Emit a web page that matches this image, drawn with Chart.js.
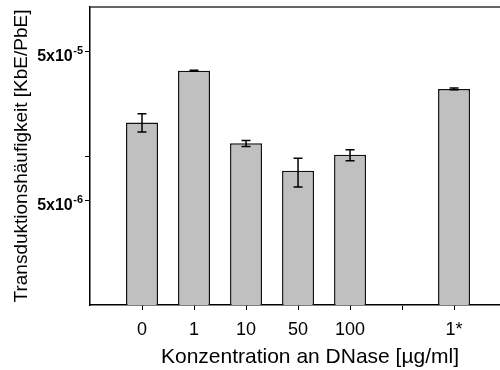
<!DOCTYPE html>
<html>
<head>
<meta charset="utf-8">
<script src="https://cdn.jsdelivr.net/npm/chart.js@4/dist/chart.umd.min.js"></script>
<style>
  html, body { margin: 0; padding: 0; background: #fff; overflow: hidden; }
  #wrap { width: 530px; height: 370px; }
</style>
</head>
<body>
<div id="wrap"><canvas id="myChart" width="530" height="370"></canvas></div>
<script>
// Kategorien (Position 5 bleibt leer)
const tickLabels = ['0', '1', '10', '50', '100', '', '1*'];
const barPositions = [0, 1, 2, 3, 4, 6];
// Transduktionshäufigkeit (Mittelwert + Fehlerbalken)
const values = [1.68e-5, 3.74e-5, 1.22e-5, 7.96e-6, 1.02e-5, 2.82e-5];
const errLow = [1.45e-5, 3.71e-5, 1.16e-5, 6.19e-6, 9.3e-6, 2.78e-5];
const errHigh = [1.92e-5, 3.77e-5, 1.27e-5, 9.65e-6, 1.10e-5, 2.86e-5];
// y-Achse: Beschriftung als Basis + Exponent
const yTickValues = [5e-6, 1e-5, 5e-5];
const yTickBase = ['5x10', '', '5x10'];
const yTickExp = ['-6', '', '-5'];

const FONT = "'Liberation Sans', Arial, Helvetica, sans-serif";

const errorBars = {
  id: 'errorBars',
  afterDatasetsDraw(chart) {
    const { ctx, scales: { x, y } } = chart;
    ctx.save();
    ctx.strokeStyle = '#000';
    ctx.lineWidth = 1.5;
    barPositions.forEach((pos, i) => {
      const px = x.getPixelForValue(pos);
      const yLo = y.getPixelForValue(errLow[i]);
      const yHi = y.getPixelForValue(errHigh[i]);
      ctx.beginPath();
      ctx.moveTo(px, yLo); ctx.lineTo(px, yHi);
      ctx.moveTo(px - 4.5, yLo); ctx.lineTo(px + 4.5, yLo);
      ctx.moveTo(px - 4.5, yHi); ctx.lineTo(px + 4.5, yHi);
      ctx.stroke();
    });
    ctx.restore();
  }
};

// Rahmenlinie oben + y-Beschriftung mit hochgestelltem Exponenten
const frameAndLabels = {
  id: 'frameAndLabels',
  afterDraw(chart) {
    const { ctx, chartArea, scales: { y } } = chart;
    ctx.save();
    ctx.strokeStyle = '#333';
    ctx.lineWidth = 1.5;
    ctx.beginPath();
    ctx.moveTo(chartArea.left, chartArea.top);
    ctx.lineTo(chartArea.right, chartArea.top);
    ctx.stroke();

    ctx.fillStyle = '#000';
    ctx.textAlign = 'right';
    ctx.textBaseline = 'alphabetic';
    yTickValues.forEach((v, i) => {
      if (!yTickBase[i]) return;
      const py = y.getPixelForValue(v);
      const right = chartArea.left - 7;
      ctx.font = 'bold 11px ' + FONT;
      const expW = ctx.measureText(yTickExp[i]).width;
      ctx.fillText(yTickExp[i], right, py + 2);
      ctx.font = 'bold 16px ' + FONT;
      ctx.fillText(yTickBase[i], right - expW - 0.5, py + 9);
    });
    ctx.restore();
  }
};

new Chart(document.getElementById('myChart'), {
  type: 'bar',
  data: {
    datasets: [{
      data: barPositions.map((p, i) => ({ x: p, y: values[i] })),
      backgroundColor: '#c0c0c0',
      borderColor: '#111',
      borderWidth: 1.5,
      borderSkipped: 'bottom',
      categoryPercentage: 0.615,
      barPercentage: 1
    }]
  },
  options: {
    responsive: false,
    animation: false,
    layout: { padding: { top: 7, left: 0, right: 0, bottom: 0 } },
    plugins: { legend: { display: false }, tooltip: { enabled: false } },
    scales: {
      x: {
        type: 'linear',
        offset: false,
        min: -1,
        max: 7.46,
        afterBuildTicks: (scale) => { scale.ticks = tickLabels.map((_, i) => ({ value: i })); },
        afterFit: (scale) => { scale.height = 65; },
        ticks: {
          callback: (v) => tickLabels[v],
          color: '#000',
          font: { family: FONT, size: 18 },
          padding: 9,
          maxRotation: 0,
          autoSkip: false
        },
        grid: { offset: false, drawOnChartArea: false, drawTicks: true, tickLength: 5, color: '#000' },
        border: { color: '#000', width: 1.5 },
        title: {
          display: true,
          text: 'Konzentration an DNase [µg/ml]',
          color: '#000',
          font: { family: FONT, size: 21 },
          padding: { top: 0, bottom: 0 }
        }
      },
      y: {
        type: 'logarithmic',
        min: 1e-6,
        max: 1e-4,
        afterBuildTicks: (scale) => { scale.ticks = yTickValues.map(v => ({ value: v })); },
        afterFit: (scale) => { scale.width = 90; },
        ticks: { display: false },
        grid: { drawOnChartArea: false, drawTicks: true, tickLength: 5, color: '#000' },
        border: { color: '#000', width: 1.5 },
        title: {
          display: true,
          text: 'Transduktionshäufigkeit [KbE/PbE]',
          color: '#000',
          font: { family: FONT, size: 19 },
          padding: { top: 10, bottom: 0 }
        }
      }
    }
  },
  plugins: [errorBars, frameAndLabels]
});
</script>
</body>
</html>
